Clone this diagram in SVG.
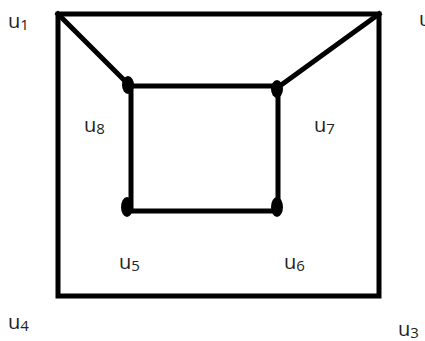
<svg xmlns="http://www.w3.org/2000/svg" width="425" height="341" viewBox="0 0 425 341">
<style>
.e{stroke:#000;stroke-width:5;fill:none;stroke-linecap:square}
.v{fill:#000}
.l{font-family:"Open Sans","Liberation Sans",sans-serif;font-size:20px;fill:#222}
.s{font-size:15px}
</style>
<rect width="425" height="341" fill="#fff"/>
<g id="connectors">
<path class="e" d="M58,14 H379 V296 H58 Z"/>
<path class="e" d="M131,86 H278 V211 H131 Z"/>
<line class="e" x1="58" y1="14" x2="128" y2="84"/>
<line class="e" x1="379" y1="14" x2="277" y2="88"/>
</g>
<g id="u1"><text class="l" x="8" y="28">u<tspan class="s" dy="2">1</tspan></text></g>
<g id="u2"><text class="l" x="419" y="26">u<tspan class="s" dy="2">2</tspan></text></g>
<g id="u3"><text class="l" x="398" y="336">u<tspan class="s" dy="2">3</tspan></text></g>
<g id="u4"><text class="l" x="8" y="329">u<tspan class="s" dy="2">4</tspan></text></g>
<g id="u5"><ellipse class="v" cx="127" cy="207" rx="6" ry="10"/><text class="l" x="119" y="269">u<tspan class="s" dy="2">5</tspan></text></g>
<g id="u6"><ellipse class="v" cx="277" cy="207" rx="6" ry="10"/><text class="l" x="284" y="269">u<tspan class="s" dy="2">6</tspan></text></g>
<g id="u7"><ellipse class="v" cx="277" cy="89" rx="6" ry="9"/><text class="l" x="314" y="132">u<tspan class="s" dy="2">7</tspan></text></g>
<g id="u8"><ellipse class="v" cx="128" cy="85" rx="6" ry="9"/><text class="l" x="84" y="132">u<tspan class="s" dy="2">8</tspan></text></g>
</svg>
